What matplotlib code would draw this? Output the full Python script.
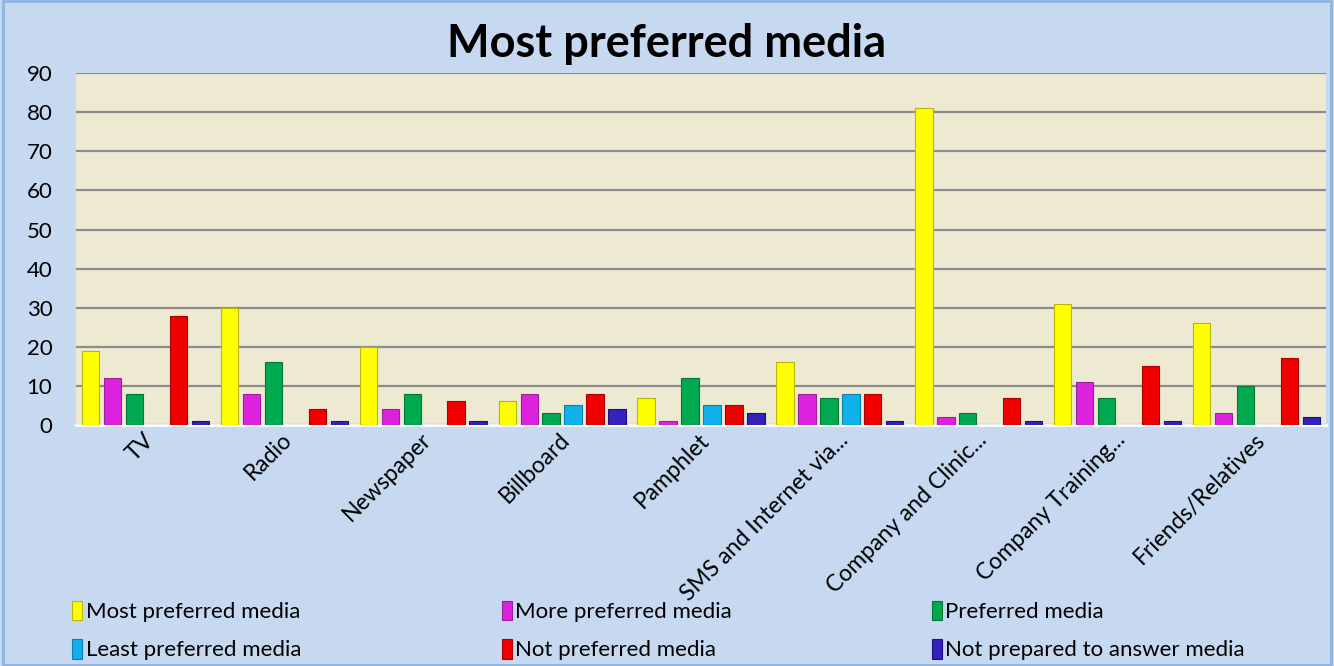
import numpy as np
import matplotlib
matplotlib.use("Agg")
import matplotlib.pyplot as plt
from matplotlib.patches import Rectangle

plt.rcParams['font.family'] = ['Lato', 'DejaVu Sans']

categories = ["TV", "Radio", "Newspaper", "Billboard", "Pamphlet",
              "SMS and Internet via...", "Company and Clinic...",
              "Company Training...", "Friends/Relatives"]
series = ["Most preferred media", "More preferred media", "Preferred media",
          "Least preferred media", "Not preferred media",
          "Not prepared to answer media"]
most = [19, 30, 20, 6, 7, 16, 81, 31, 26]
more = [12, 8, 4, 8, 1, 8, 2, 11, 3]
preferred = [8, 16, 8, 3, 12, 7, 3, 7, 10]
least = [0, 0, 0, 5, 5, 8, 0, 0, 0]
notpref = [28, 4, 6, 8, 5, 8, 7, 15, 17]
noanswer = [1, 1, 1, 4, 3, 1, 1, 1, 2]
values = [most, more, preferred, least, notpref, noanswer]
colors = ["#FFFF00", "#DD22DD", "#00A850", "#10B0EA", "#F20000", "#3322BB"]
edges = ["#B8B800", "#992299", "#007838", "#0880B0", "#A80000", "#201080"]

fig = plt.figure(figsize=(13.34, 6.66), dpi=100)
fig.patch.set_facecolor("#C6D9F1")
fig.patches.append(Rectangle((0.002, 0.002), 0.996, 0.996, transform=fig.transFigure,
                             fill=False, edgecolor="#8EB4E3", linewidth=2))

ax = fig.add_axes([0.057, 0.362, 0.937, 0.528])
ax.set_facecolor("#EEEAD2")

x = np.arange(len(categories))
step = 0.158
w = 0.125
for i, (vals, c, e) in enumerate(zip(values, colors, edges)):
    ax.bar(x - 2.5 * step + i * step, vals, width=w, color=c, edgecolor=e,
           linewidth=0.8, label=series[i], zorder=3)

ax.set_xlim(-0.5, len(categories) - 0.5)
ax.set_ylim(0, 90)
ax.set_yticks(range(0, 91, 10))
ax.yaxis.grid(True, color="#8C8C8C", linewidth=1.6, zorder=0)
ax.tick_params(axis='y', length=0, labelsize=16, pad=17)
ax.tick_params(axis='x', length=0, labelsize=16.5, pad=3)
ax.set_xticks(x - 0.02)
ax.set_xticklabels(categories, rotation=45, ha='right', rotation_mode='anchor')
for s in ["top", "right", "left"]:
    ax.spines[s].set_visible(False)
ax.spines["bottom"].set_color("#FFFFFF")
ax.spines["bottom"].set_linewidth(2)

fig.text(0.5, 0.934, "Most preferred media", ha='center', va='center',
         fontsize=32.5, fontweight='bold')

handles, labels = ax.get_legend_handles_labels()
col_x = [0.046, 0.368, 0.690]
for j in range(3):
    leg = fig.legend([handles[j], handles[j + 3]], [labels[j], labels[j + 3]],
                     loc='upper left', bbox_to_anchor=(col_x[j], 0.115),
                     frameon=False, fontsize=16, handlelength=0.45,
                     handleheight=1.0, handletextpad=0.15, labelspacing=0.75,
                     borderpad=0)

fig.savefig("out.png", dpi=100, facecolor=fig.get_facecolor())
